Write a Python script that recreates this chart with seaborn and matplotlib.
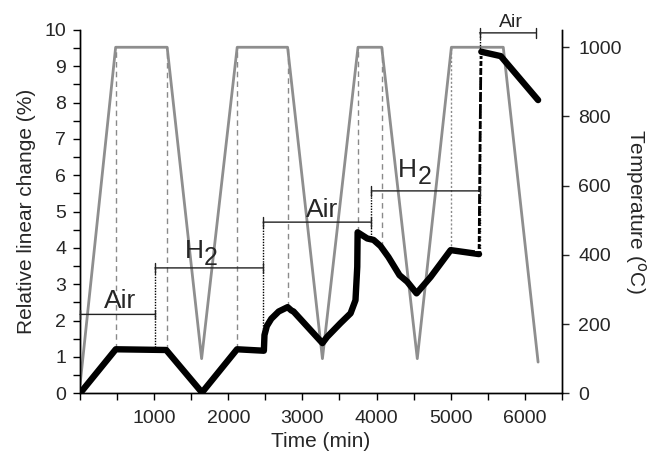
import numpy as np
import pandas as pd
import matplotlib
matplotlib.use('Agg')
import matplotlib.pyplot as plt
from matplotlib.ticker import MultipleLocator
import seaborn as sns

# relative linear change (%) vs time (min)
time_main = [0, 482, 1162, 1645, 2118, 2480, 2488, 2520, 2580, 2680, 2800, 2850, 2880,
             3270, 3333, 3514, 3650, 3716, 3740, 3745, 3875, 3960, 4054, 4160, 4310,
             4414, 4540, 4730, 5000, 5383]
change_main = [0, 1.21, 1.19, 0.02, 1.21, 1.17, 1.6, 1.85, 2.05, 2.25, 2.37, 2.28, 2.25,
               1.38, 1.55, 1.93, 2.2, 2.56, 3.48, 4.43, 4.26, 4.22, 4.05, 3.75, 3.25,
               3.07, 2.75, 3.2, 3.94, 3.83]

# the fast expansion step (measured points)
time_jump = [5384, 5385, 5386, 5387, 5388, 5389, 5390, 5392, 5393, 5394, 5396, 5397,
             5399, 5400, 5402, 5404, 5406, 5408, 5410, 5412, 5413]
change_jump = [3.94, 4.14, 4.35, 4.58, 4.86, 5.18, 5.50, 5.73, 5.98, 6.33, 6.60, 6.90,
               7.25, 7.52, 7.98, 8.33, 8.73, 8.99, 9.17, 9.31, 9.40]

time_end = [5414, 5676, 6180]
change_end = [9.40, 9.28, 8.07]

# furnace temperature programme
time_temp = [0, 480, 1175, 1640, 2120, 2800, 3270, 3750, 4070, 4550, 5010, 5710, 6180]
temp = [25, 1000, 1000, 100, 1000, 1000, 100, 1000, 1000, 100, 1000, 1000, 90]

# dashed guides from the 1000 C plateaus down to the curve
guide_t = [490, 1170, 2120, 2800, 3745, 4070, 5010]
guide_y = [1.21, 1.19, 1.21, 2.37, 4.43, 4.03, 3.94]

# atmosphere changes
gas_labels = ['Air', 'H', 'Air', 'H', 'Air']
gas_start = [0, 1010, 2470, 3930, 5390]
gas_end = [1010, 2470, 3930, 5390, 6150]
gas_level = [2.17, 3.45, 4.71, 5.57, 9.92]
label_t = [540, 1667, 3270, 4550, 5810]
label_y = [2.34, 3.72, 4.86, 5.96, 10.07]
switch_bottom = [1.2, 1.17, 4.22, 3.83]

sns.set_style('ticks')
plt.rcParams['font.family'] = ['Liberation Sans', 'DejaVu Sans']
plt.rcParams['mathtext.default'] = 'regular'

fig = plt.figure(figsize=(6.51, 4.61), dpi=100)
ax = fig.add_axes([0.123, 0.147, 0.740, 0.788])
ax2 = ax.twinx()

sns.lineplot(x=time_temp, y=temp, ax=ax2, color='#8e8e8e', lw=2,
             estimator=None, sort=False)

t_max = 1050
top = 1000 / t_max * 10
ax.vlines(guide_t[:6], guide_y[:6], top, colors='#8a8a8a', linestyles=(0, (4, 3)), lw=1)
ax.vlines(guide_t[6:], guide_y[6:], top, colors='#8a8a8a', linestyles=(0, (1.5, 1.5)), lw=1)
ax.vlines(gas_start[1:], switch_bottom, gas_level[1:], colors='black',
          linestyles=(0, (1, 1)), lw=1)

sns.lineplot(x=time_main, y=change_main, ax=ax, color='black', lw=4.6,
             estimator=None, sort=False)
sns.lineplot(x=time_jump, y=change_jump, ax=ax, color='black', lw=2,
             marker='_', markersize=6, markeredgewidth=1.5, estimator=None, sort=False)
sns.lineplot(x=time_end, y=change_end, ax=ax, color='black', lw=4.6,
             estimator=None, sort=False)

for i, lab in enumerate(gas_labels):
    ax.annotate('', xy=(gas_start[i], gas_level[i]), xytext=(gas_end[i], gas_level[i]),
                arrowprops=dict(arrowstyle='|-|,widthA=0.35,widthB=0.35', lw=1,
                                color='#222222', shrinkA=0, shrinkB=0),
                annotation_clip=False)
    if lab == 'H':
        ax.text(label_t[i], label_y[i], 'H', ha='right', va='baseline', fontsize=19)
        ax.annotate('2', xy=(label_t[i], label_y[i]), xytext=(0, -5),
                    textcoords='offset points', ha='left', va='baseline', fontsize=18)
    elif i == 4:
        ax.text(label_t[i], label_y[i], lab, ha='center', va='baseline', fontsize=14,
                clip_on=False)
    else:
        ax.text(label_t[i], label_y[i], lab, ha='center', va='baseline', fontsize=19)

ax.set_xlim(0, 6500)
ax.set_ylim(0, 10)
ax2.set_ylim(0, t_max)
ax.set_xticks([1000, 2000, 3000, 4000, 5000, 6000])
ax.xaxis.set_minor_locator(MultipleLocator(500))
ax.set_yticks(range(0, 11))
ax.yaxis.set_minor_locator(MultipleLocator(0.5))
ax2.set_yticks([0, 200, 400, 600, 800, 1000])

ax.tick_params(axis='both', which='both', direction='out', length=5, width=1,
               labelsize=14, color='black')
ax.tick_params(axis='y', pad=5)
ax.tick_params(axis='x', pad=7)
ax2.tick_params(axis='y', direction='out', length=5, width=1, labelsize=14, pad=7)

for a in (ax, ax2):
    a.spines['top'].set_visible(False)
    for s in ('left', 'right', 'bottom'):
        a.spines[s].set_linewidth(1)
        a.spines[s].set_color('black')

ax.set_xlabel('Time (min)', fontsize=15, labelpad=4)
ax.set_ylabel('Relative linear change (%)', fontsize=15, labelpad=6)
ax2.set_ylabel('Temperature ($^{\\mathrm{o}}$C)', fontsize=15, rotation=-90, labelpad=18)

ax.set_zorder(ax2.get_zorder() + 1)
ax.patch.set_visible(False)

fig.savefig('out.png', dpi=100)
